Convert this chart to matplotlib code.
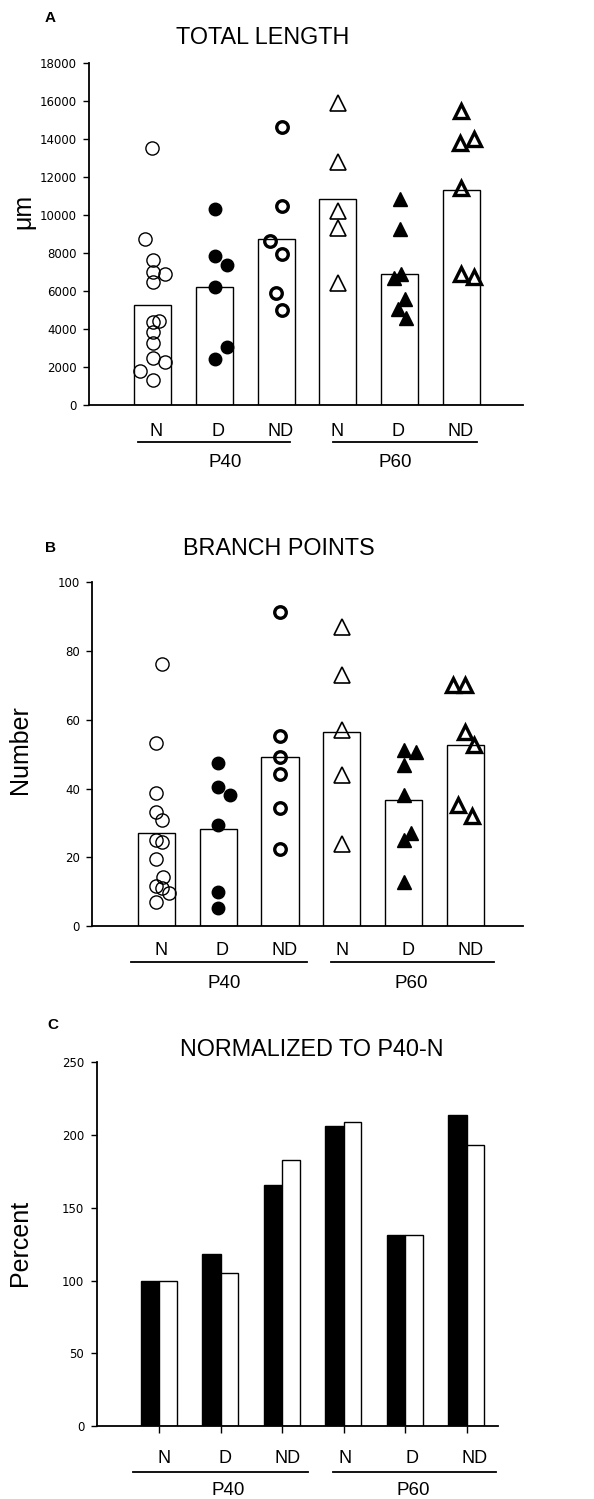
import matplotlib
matplotlib.use("Agg")
import matplotlib.pyplot as plt

plt.rcParams['font.family'] = ['Liberation Sans', 'DejaVu Sans']

categories = ['N', 'D', 'ND', 'N', 'D', 'ND']
ages = ['P40', 'P60']

# total dendritic length per cell (um), one list per group
len_p40_n = [13510, 8740, 7630, 7020, 6900, 6490, 4440, 4380, 3860, 3250, 2460, 2280, 1810, 1320]
len_p40_d = [10300, 7840, 7370, 6190, 3070, 2400]
len_p40_nd = [14610, 10490, 8650, 7950, 5880, 5000]
len_p60_n = [15880, 12770, 10180, 9330, 6400]
len_p60_d = [10840, 9250, 6890, 6660, 5560, 5030, 4560]
len_p60_nd = [15440, 13770, 13980, 11400, 6890, 6750]
len_means = [5280, 6200, 8750, 10830, 6900, 11280]

# branch points per cell
bp_p40_n = [76.1, 53.1, 38.8, 33.3, 30.8, 25.0, 24.5, 19.5, 14.3, 11.6, 11.0, 9.5, 7.1]
bp_p40_d = [47.3, 40.3, 38.1, 29.4, 10.0, 5.1]
bp_p40_nd = [91.4, 55.2, 49.2, 44.2, 34.2, 22.4]
bp_p60_n = [87.0, 73.0, 57.0, 43.9, 24.0]
bp_p60_d = [51.2, 50.5, 46.8, 38.1, 27.0, 25.0, 12.9]
bp_p60_nd = [70.1, 70.1, 56.5, 52.6, 35.2, 32.0]
bp_means = [27.1, 28.1, 49.2, 56.3, 36.6, 52.6]

# normalized to P40-N (percent)
norm_length = [100, 118, 166, 206, 131, 214]
norm_branch = [100, 105, 183, 209, 131, 193]

# horizontal scatter of the points inside each bar (fraction of category step)
len_jitter = [
    [-0.02, -0.12, 0, 0, 0.2, 0, 0.1, 0, 0, 0, 0, 0.2, -0.21, 0],
    [0, 0, 0.2, 0, 0.2, 0],
    [0.09, 0.1, -0.1, 0.1, 0, 0.1],
    [0, 0, 0, 0, 0],
    [0, 0, 0.02, -0.09, 0.09, -0.02, 0.1],
    [0, -0.02, 0.2, 0, -0.01, 0.2],
]
bp_jitter = [
    [0.09, 0, 0, 0, 0.1, 0, 0.09, 0, 0.11, 0, 0.09, 0.2, 0],
    [0, 0, 0.19, 0, 0, 0],
    [0, 0, 0, 0, 0, 0],
    [0, 0, 0, 0, 0],
    [0, 0.2, 0, 0, 0.12, 0, 0],
    [-0.2, 0, 0, 0.13, -0.12, 0.1],
]

styles = [
    dict(marker='o', mfc='none', mec='k', mew=1.0, ms=9.5),
    dict(marker='o', mfc='k', mec='k', mew=1.0, ms=9),
    dict(marker='o', mfc='none', mec='k', mew=2.4, ms=8.3),
    dict(marker='^', mfc='none', mec='k', mew=1.2, ms=11),
    dict(marker='^', mfc='k', mec='k', mew=1.0, ms=10.5),
    dict(marker='^', mfc='none', mec='k', mew=2.4, ms=10),
]

W, H = 594, 1499
fig = plt.figure(figsize=(W / 100, H / 100), dpi=100)


def axes_px(left, right, top, bottom):
    return fig.add_axes([left / W, 1 - bottom / H, (right - left) / W, (bottom - top) / H])


def style_axes(ax):
    for s in ['top', 'right']:
        ax.spines[s].set_visible(False)
    for s in ['left', 'bottom']:
        ax.spines[s].set_linewidth(1.3)
    ax.tick_params(axis='y', direction='out', length=4, width=1.0, pad=5)
    for lab in ax.get_yticklabels():
        lab.set_fontfamily('DejaVu Sans')
        lab.set_fontsize(8.5)


def group_labels(ax, lab_x, lab_y, line_y, lines, grp_x, grp_y):
    tr = ax.get_xaxis_transform()
    for x, c in zip(lab_x, categories):
        ax.text(x, lab_y, c, transform=tr, ha='center', va='center', fontsize=13, clip_on=False)
    for (x0, x1) in lines:
        ax.plot([x0, x1], [line_y, line_y], transform=tr, color='k', lw=1.3, clip_on=False)
    for x, a in zip(grp_x, ages):
        ax.text(x, grp_y, a, transform=tr, ha='center', va='center', fontsize=13.5, clip_on=False)


def scatter_panel(ax, means, groups, jitter):
    pos = list(range(1, len(means) + 1))
    ax.bar(pos, means, width=0.6, color='white', edgecolor='k', linewidth=1.0, zorder=2)
    for i, (vals, jit) in enumerate(zip(groups, jitter)):
        xs = [pos[i] + j for j in jit]
        ax.plot(xs, vals, linestyle='none', zorder=3, clip_on=False, **styles[i])
    ax.set_xticks([])


# ---- A: total length
axA = axes_px(89.3, 523, 62.7, 405)
scatter_panel(axA, len_means,
              [len_p40_n, len_p40_d, len_p40_nd, len_p60_n, len_p60_d, len_p60_nd], len_jitter)
axA.set_xlim(-0.03, 7.0)
axA.set_ylim(0, 18000)
axA.set_yticks(range(0, 18001, 2000))
style_axes(axA)
group_labels(axA, [1.06, 2.06, 3.07, 3.99, 4.98, 5.99], -0.078, -0.107,
             [(0.76, 3.22), (3.92, 6.25)], [2.17, 4.93], -0.169)

# ---- B: branch points
axB = axes_px(92.3, 523, 582.3, 926)
scatter_panel(axB, bp_means,
              [bp_p40_n, bp_p40_d, bp_p40_nd, bp_p60_n, bp_p60_d, bp_p60_nd], bp_jitter)
axB.set_xlim(-0.035, 6.93)
axB.set_ylim(0, 100)
axB.set_yticks(range(0, 101, 20))
style_axes(axB)
group_labels(axB, [1.08, 2.07, 3.08, 4.0, 5.07, 6.09], -0.070, -0.106,
             [(0.59, 3.44), (3.83, 6.46)], [2.09, 5.12], -0.166)

# ---- C: normalized
axC = axes_px(96.7, 498.3, 1062.3, 1426)
pos = list(range(1, 7))
axC.bar([p - 0.15 for p in pos], norm_length, width=0.3, color='k', edgecolor='k', linewidth=1.0)
axC.bar([p + 0.14 for p in pos], norm_branch, width=0.28, color='white', edgecolor='k', linewidth=1.0)
axC.set_xlim(-0.02, 6.51)
axC.set_ylim(0, 250)
axC.set_yticks(range(0, 251, 50))
axC.set_xticks(pos)
axC.set_xticklabels([])
axC.tick_params(axis='x', direction='out', length=5, width=1.0)
style_axes(axC)
group_labels(axC, [1.07, 2.07, 3.08, 4.02, 5.11, 6.12], -0.088, -0.126,
             [(0.57, 3.41), (3.83, 6.47)], [2.11, 5.13], -0.176)

# titles, axis labels, panel letters
fig.text(263 / W, 1 - 38 / H, 'TOTAL LENGTH', ha='center', va='center', fontsize=16.8)
fig.text(279 / W, 1 - 548 / H, 'BRANCH POINTS', ha='center', va='center', fontsize=16.8)
fig.text(312 / W, 1 - 1050 / H, 'NORMALIZED TO P40-N', ha='center', va='center', fontsize=16.8)

fig.text(23 / W, 1 - 211 / H, 'μm', rotation=90, ha='center', va='center', fontsize=18)
fig.text(20 / W, 1 - 750 / H, 'Number', rotation=90, ha='center', va='center', fontsize=18)
fig.text(20 / W, 1 - 1243 / H, 'Percent', rotation=90, ha='center', va='center', fontsize=18)

fig.text(50 / W, 1 - 18 / H, 'A', ha='center', va='center', fontsize=11, fontweight='bold')
fig.text(50 / W, 1 - 548 / H, 'B', ha='center', va='center', fontsize=11, fontweight='bold')
fig.text(53 / W, 1 - 1025 / H, 'C', ha='center', va='center', fontsize=11, fontweight='bold')

fig.savefig('out.png', dpi=100)
